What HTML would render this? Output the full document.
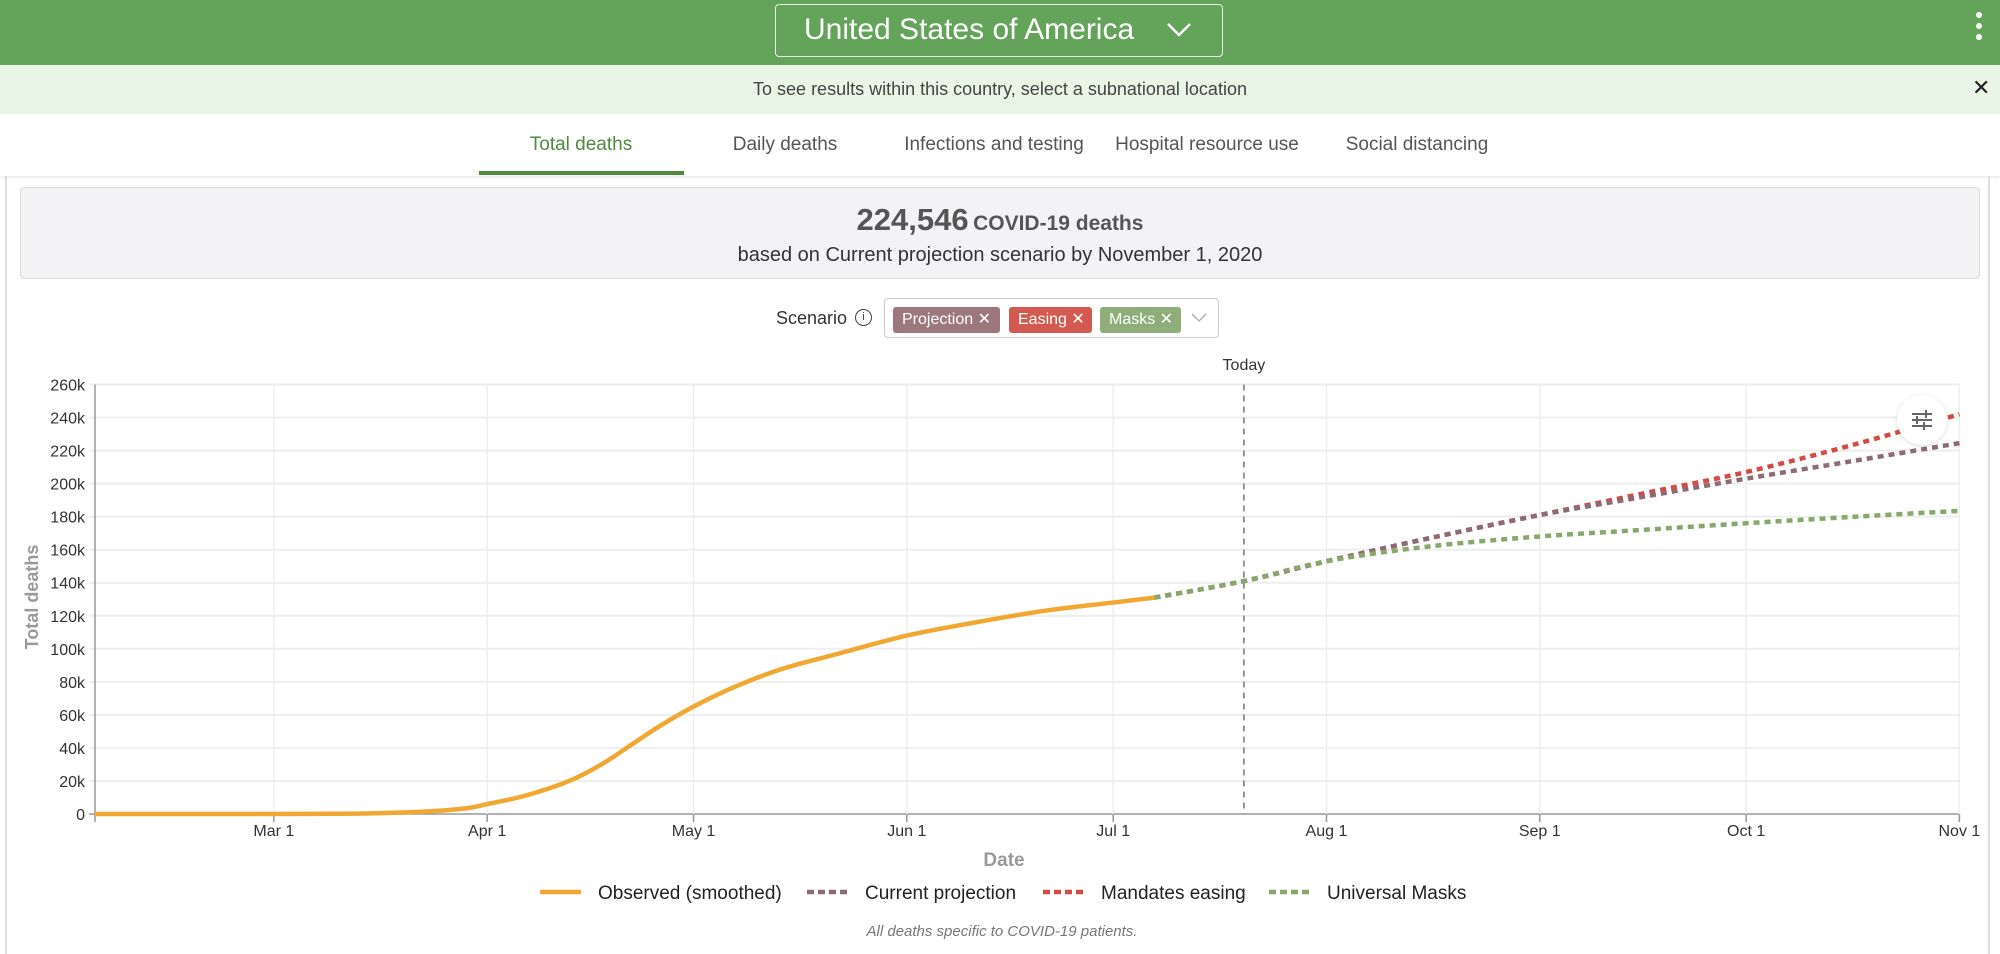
<!DOCTYPE html>
<html><head><meta charset="utf-8">
<style>
*{box-sizing:border-box;margin:0;padding:0}
body{width:2000px;height:954px;overflow:hidden;background:#fff;font-family:"Liberation Sans",sans-serif;position:relative;color:#555}
.abs{position:absolute}
#hdr{left:0;top:0;width:2000px;height:65px;background:#64a35a}
#country{left:775px;top:4px;width:448px;height:53px;border:1.5px solid #e8f3e4;border-radius:4px;color:#fff;font-size:30px;line-height:50px;padding-left:28px}
#banner{left:0;top:65px;width:2000px;height:49px;background:#e9f6e6;text-align:center;font-size:18px;line-height:49px;color:#444}
#tabs{left:0;top:114px;width:2000px;height:62px;background:#fff;box-shadow:0 2px 3px rgba(0,0,0,.08)}
.tab{position:absolute;top:20px;font-size:19px;color:#555;transform:translateX(-50%);white-space:nowrap}
#frame{left:5px;top:176px;width:1985px;height:778px;border-left:2px solid #ddd;border-right:2px solid #ddd}
#card{left:20px;top:187px;width:1960px;height:92px;background:#f3f3f5;border:1.5px solid #dcdcdc;border-radius:4px;text-align:center}
.chip{position:absolute;top:8px;height:26px;border-radius:3px;color:#fff;font-size:16px;line-height:26px;padding-left:9px}
</style></head><body>
<div class="abs" id="hdr"></div>
<div class="abs" id="country">United States of America
<svg class="abs" style="left:390px;top:17px" width="26" height="16"><path d="M2 2 L13 13 L24 2" stroke="#fff" stroke-width="2.5" fill="none"/></svg></div>
<div class="abs" style="left:1976px;top:12px;width:8px">
<div style="width:6px;height:6px;border-radius:3px;background:#fff;margin-bottom:5px"></div><div style="width:6px;height:6px;border-radius:3px;background:#fff;margin-bottom:5px"></div><div style="width:6px;height:6px;border-radius:3px;background:#fff"></div></div>
<div class="abs" id="banner">To see results within this country, select a subnational location</div>
<div class="abs" style="left:1972px;top:75px;font-size:22px;color:#222">✕</div>
<div class="abs" id="tabs">
<div class="tab" style="left:581px;color:#4f8a3f">Total deaths</div>
<div class="tab" style="left:785px">Daily deaths</div>
<div class="tab" style="left:994px">Infections and testing</div>
<div class="tab" style="left:1207px">Hospital resource use</div>
<div class="tab" style="left:1417px">Social distancing</div>
<div class="abs" style="left:479px;top:57px;width:205px;height:4px;background:#4f8a3f"></div>
</div>
<div class="abs" id="frame"></div>
<div class="abs" id="card">
<div style="margin-top:14px;font-weight:bold;color:#555"><span style="font-size:31px">224,546</span> <span style="font-size:21px">COVID-19 deaths</span></div>
<div style="margin-top:6px;font-size:20px;color:#333">based on Current projection scenario by November 1, 2020</div>
</div>
<div class="abs" style="left:776px;top:308px;font-size:18px;color:#333">Scenario</div>
<div class="abs" style="left:855px;top:309px;width:17px;height:17px;border:1.3px solid #444;border-radius:50%;font-size:11px;text-align:center;line-height:15px;color:#444">i</div>
<div class="abs" style="left:884px;top:298px;width:335px;height:40px;border:1px solid #ccc;border-radius:4px;background:#fff">
<div class="chip" style="left:8px;width:107px;background:#9c787c">Projection ✕</div>
<div class="chip" style="left:124px;width:83px;background:#d35a50">Easing ✕</div>
<div class="chip" style="left:215px;width:81px;background:#8ead78">Masks ✕</div>
<svg class="abs" style="left:306px;top:14px" width="16" height="10"><path d="M1 1 L8 8 L15 1" stroke="#aaa" stroke-width="1.3" fill="none"/></svg>
</div>
<svg class="abs" style="left:0;top:0" width="2000" height="954" id="chart"></svg>
<div class="abs" style="left:1897px;top:395px;width:50px;height:50px;border-radius:50%;background:#fff;box-shadow:0 1px 4px rgba(0,0,0,.15)">
<svg width="50" height="50"><g stroke="#666" stroke-width="2"><line x1="15" y1="19" x2="35" y2="19"/><line x1="15" y1="25" x2="35" y2="25"/><line x1="15" y1="31" x2="35" y2="31"/><line x1="29" y1="15" x2="29" y2="23"/><line x1="20" y1="21" x2="20" y2="29"/><line x1="27" y1="27" x2="27" y2="35"/></g></svg></div>
<script>
const xTickLabels=["Mar 1","Apr 1","May 1","Jun 1","Jul 1","Aug 1","Sep 1","Oct 1","Nov 1"];
const xTickDays=[60,91,121,152,182,213,244,274,305];
const yTicks=[0,20,40,60,80,100,120,140,160,180,200,220,240,260];
const obsDays=[34,50,66,74,82,88,91,96,100,104,108,112,116,121,127,134,142,152,162,172,182,188];
const obsVals=[0,0,0.1,0.4,1.5,3.5,6,10.5,15.5,22,31,42,53,65,77,88,97,108,116,123,128,131];
const projDays=[188,201,213,228,244,259,274,290,305];
const curVals=[131,141,153,167,181,192,203,214,224.5];
const easeVals=[131,141,153,167,181,194,207,224,242];
const maskVals=[131,141,153,162,168,172,176,180,183.5];
const todayDay=201;
const NS="http://www.w3.org/2000/svg";
const svg=document.getElementById('chart');
const X0=34,X1=305,PX0=95,PX1=1959.4,Y0=814,YT=384.5;
const xs=d=>PX0+(d-X0)*(PX1-PX0)/(X1-X0);
const ys=v=>Y0-v*(Y0-YT)/260;
function mk(t,a,p){const e=document.createElementNS(NS,t);for(const k in a)e.setAttribute(k,a[k]);(p||svg).appendChild(e);return e;}
yTicks.forEach(v=>{
 const l=mk('line',{x1:PX0-6,x2:PX1,y1:ys(v),y2:ys(v),stroke:v===0?'#999':'#eee','stroke-width':v===0?1.5:2});
 
 
 const t=mk('text',{x:PX0-10,y:ys(v)+6,'text-anchor':'end','font-size':16,fill:'#333'});
 t.textContent=v===0?'0':v+'k';
 
 
});
xTickDays.forEach((d,i)=>{
 const l=mk('line',{x1:xs(d),x2:xs(d),y1:YT,y2:Y0+8,stroke:'#eee','stroke-width':1.5});
 
 
 mk('line',{x1:xs(d),x2:xs(d),y1:Y0,y2:Y0+8,stroke:'#999','stroke-width':1.5});
 const t=mk('text',{x:xs(d),y:836,'text-anchor':'middle','font-size':16,fill:'#333'});
 t.textContent=xTickLabels[i];
 
 
});
const ax=mk('line',{x1:PX0,x2:PX0,y1:YT,y2:Y0+8,stroke:'#999','stroke-width':1.5});


const tl=mk('line',{x1:xs(todayDay),x2:xs(todayDay),y1:YT,y2:Y0,stroke:'#777','stroke-width':1.5,'stroke-dasharray':'6,5'});


const tt=mk('text',{x:xs(todayDay),y:370,'text-anchor':'middle','font-size':16,fill:'#333'});
tt.textContent='Today';


function path(days,vals){
 const p=days.map((d,i)=>[xs(d),ys(vals[i])]);
 let s='M'+p[0][0]+','+p[0][1];
 for(let i=0;i<p.length-1;i++){
  const a=p[i-1]||p[i],b=p[i],c=p[i+1],e=p[i+2]||c;
  const c1=[b[0]+(c[0]-a[0])/6,b[1]+(c[1]-a[1])/6],c2=[c[0]-(e[0]-b[0])/6,c[1]-(e[1]-b[1])/6];
  s+=` C${c1[0]},${c1[1]} ${c2[0]},${c2[1]} ${c[0]},${c[1]}`;
 }
 return s;
}
const dash={fill:'none','stroke-width':4.5,'stroke-dasharray':'6,5'};
const s1=mk('path',Object.assign({d:path(projDays,easeVals),stroke:'#d44b45'},dash));


const s2=mk('path',Object.assign({d:path(projDays,curVals),stroke:'#8c6a77'},dash));


const s3=mk('path',Object.assign({d:path(projDays,maskVals),stroke:'#86a86a'},dash));


const s0=mk('path',{d:path(obsDays,obsVals),stroke:'#f0a832',fill:'none','stroke-width':4.5});


const xt=mk('text',{x:1004,y:866,'text-anchor':'middle','font-size':19,'font-weight':'bold',fill:'#999'});
xt.textContent='Date';


const yt=mk('text',{x:0,y:0,transform:'translate(38,597) rotate(-90)','text-anchor':'middle','font-size':18,'font-weight':'bold',fill:'#999'});
yt.textContent='Total deaths';


const legNames=['Observed (smoothed)','Current projection','Mandates easing','Universal Masks'];
const legColors=['#f0a832','#8c6a77','#d44b45','#86a86a'];
const legX=[540,807,1043,1269];
legNames.forEach((n,i)=>{
 const g=mk('g',{});
 
 
 mk('line',{x1:legX[i],x2:legX[i]+41,y1:892,y2:892,stroke:legColors[i],'stroke-width':4.5,'stroke-dasharray':i?'7,4':''},g);
 const t=mk('text',{x:legX[i]+58,y:899,'font-size':19,fill:'#222'},g);
 t.textContent=n;
});
const fn=mk('text',{x:1002,y:936,'text-anchor':'middle','font-size':15,'font-style':'italic',fill:'#777'});
fn.textContent='All deaths specific to COVID-19 patients.';


</script>
</body></html>
